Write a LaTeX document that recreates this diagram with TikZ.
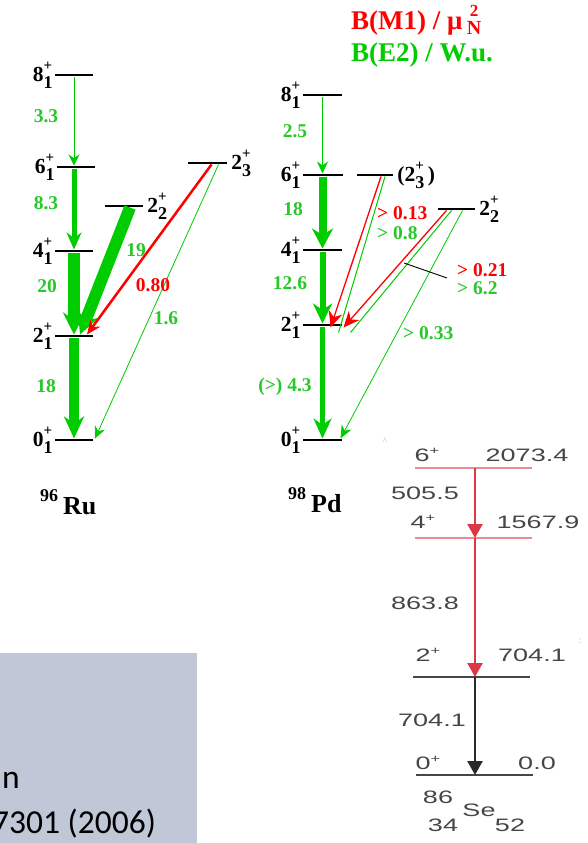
\documentclass[tikz,border=0pt]{standalone}
\usepackage{fontspec}
\setmainfont{Liberation Serif}
\newfontfamily\sefont[FakeStretch=1.5]{Liberation Sans}
\newfontfamily\notefont{Carlito}
\usetikzlibrary{arrows.meta,positioning}

\definecolor{egreen}{RGB}{0,204,0}
\definecolor{tgreen}{RGB}{40,200,40}
\definecolor{mred}{RGB}{255,0,0}
\definecolor{selev}{RGB}{232,140,150}
\definecolor{searr}{RGB}{220,55,70}
\definecolor{segray}{RGB}{70,70,70}
\definecolor{notebg}{RGB}{192,199,214}

% spin label: J with K below and parity above
\newcommand{\spin}[3]{#1\rlap{\raisebox{11pt}{\fontsize{15}{15}\selectfont #3}}\raisebox{-7pt}{\fontsize{18}{18}\selectfont #2}}
\newcommand{\sesup}[2]{#1\raisebox{0.38em}{\fontsize{11}{11}\selectfont #2}}

\tikzset{
  lev/.style={fill=black, inner sep=0pt, minimum height=2.6pt},
  selvl/.style={fill=#1, inner sep=0pt, minimum height=1.3pt, minimum width=117pt},
  levlab/.style={font=\bfseries\fontsize{21.5}{22}\selectfont, inner sep=1pt},
  trlab/.style={font=\bfseries\fontsize{19.5}{20}\selectfont, text=tgreen, inner sep=0pt},
  gtr/.style={draw=egreen, line width=#1},
  selab/.style={font=\sefont\fontsize{18}{18}\selectfont, text=segray, inner sep=0pt},
}

\begin{document}
\begin{tikzpicture}[x=1pt,y=-1pt]
    \clip (0,0) rectangle (587,843);
    \fill[white] (0,0) rectangle (587,843);

    % Levels
    \foreach \n/\x/\y/\w in {ru8/74/75/38, ru6/76/167/38, ru22/124/206/38, ru23/207.5/163/39,
        ru4/74/251/38, ru21/74/336/38, ru01/74/440/38,
        pd8/322.5/95/39, pd6/323/175/40, pd23/375/175/36, pd22/456.5/209/37,
        pd4/322.5/250/39, pd21/322.5/325/39, pd01/322.5/440/39} {
        \node[lev, minimum width=\w pt] (\n) at (\x,\y) {};
    }

    % Level labels
    \foreach \n/\j/\k in {ru8/8/1, ru6/6/1, ru4/4/1, ru21/2/1, ru01/0/1,
        pd8/8/1, pd6/6/1, pd4/4/1, pd21/2/1, pd01/0/1} {
        \node[levlab, left=1pt of \n] (\n l) {\spin{\j}{\k}{+}};
    }
    \node[levlab, right=3pt of ru22] (ru22l) {\spin{2}{2}{+}};
    \node[levlab, right=3pt of ru23] (ru23l) {\spin{2}{3}{+}};
    \node[levlab, right=3pt of pd22] (pd22l) {\spin{2}{2}{+}};
    \node[levlab, right=3pt of pd23] (pd23l) {(\spin{2}{3}{+}\,)};

    % Ru transitions
    \draw[gtr=1pt, -{Stealth[length=11pt,width=11pt]}] (ru8) -- (ru6.north -| ru8);
    \draw[gtr=5pt, -{Stealth[length=17pt,width=15pt]}] (ru6.south -| ru8) -- (ru4);
    \draw[gtr=12pt, -{Stealth[length=22pt,width=22pt]}] (ru4) -- (ru21);
    \draw[gtr=12pt, -{Stealth[length=22pt,width=22pt]}] ([xshift=6pt]ru22.south) -- ([xshift=6pt]ru21.north);
    \draw[gtr=10pt, -{Stealth[length=22pt,width=20pt]}] (ru21) -- (ru01);
    \draw[draw=mred, line width=2.5pt, -{Stealth[length=14pt,width=12pt]}] ([xshift=4pt]ru23.south) -- ([xshift=13pt]ru21.north);
    \draw[gtr=0.8pt, -{Stealth[length=12pt,width=11pt]}] ([xshift=11pt]ru23.south) -- ([xshift=21pt]ru01.north);

    \node[trlab] (ru86) at (46,116) {3.3};
    \node[trlab] (ru64) at (46,203) {8.3};
    \node[trlab] (ru42) at (47,286) {20};
    \node[trlab] (ru20) at (46,386) {18};
    \node[trlab] (ru2221) at (136,250) {19};
    \node[trlab, text=mred] (ru2321) at (153,285) {0.80};
    \node[trlab] (ru2301) at (166,318) {1.6};

    % Pd transitions
    \draw[gtr=1pt, -{Stealth[length=12pt,width=11pt]}] (pd8) -- (pd6.north -| pd8);
    \draw[gtr=8pt, -{Stealth[length=20pt,width=21pt]}] (pd6.south -| pd8) -- (pd4);
    \draw[gtr=6pt, -{Stealth[length=20pt,width=19pt]}] (pd4) -- (pd21);
    \draw[gtr=5pt, -{Stealth[length=20pt,width=18pt]}] (pd21) -- (pd01);
    \draw[gtr=1pt] ([xshift=10pt]pd23.south) -- ([xshift=16pt,yshift=-9pt]pd21.north);
    \draw[draw=mred, line width=1.3pt, -{Stealth[length=16pt,width=14pt]}] ([xshift=6pt]pd23.south) -- ([xshift=8pt,yshift=-4pt]pd21.north);
    \draw[gtr=1pt] ([xshift=-5pt]pd22.south) -- ([xshift=28pt,yshift=-9pt]pd21.north);
    \draw[draw=mred, line width=1.3pt, -{Stealth[length=16pt,width=14pt]}] ([xshift=-10pt]pd22.south) -- ([xshift=21pt,yshift=-4pt]pd21.north);
    \draw[gtr=0.8pt, -{Stealth[length=13pt,width=11pt]}] ([xshift=6pt]pd22.south) -- ([xshift=18pt]pd01.north);
    \draw[black, line width=0.9pt] (404,263) -- (447,278);

    \node[trlab] (pd86) at (295,131) {2.5};
    \node[trlab] (pd64) at (293,209) {18};
    \node[trlab] (pd42) at (290,283) {12.6};
    \node[trlab] (pd20) at (285,387) {(>) 4.3};
    \node[trlab, text=mred, anchor=west] (pd2321m) at (377,213) {> 0.13};
    \node[trlab, anchor=west] (pd2321e) at (377,233) {> 0.8};
    \node[trlab, text=mred, anchor=west] (pd2221m) at (457,270) {> 0.21};
    \node[trlab, anchor=west] (pd2221e) at (457,288) {> 6.2};
    \node[trlab, anchor=west] (pd2201) at (403,333) {> 0.33};

    % Legend and nuclei
    \node[font=\bfseries\fontsize{27}{28}\selectfont, text=mred, anchor=base west, inner sep=0pt] (bm1) at (351,30) {B(M1) / μ\,\rlap{\hspace{3pt}\raisebox{13pt}{\fontsize{17}{17}\selectfont 2}}\raisebox{-5pt}{\fontsize{20}{20}\selectfont N}};
    \node[font=\bfseries\fontsize{27}{28}\selectfont, text=egreen, anchor=base west, inner sep=0pt] (be2) at (351,62) {B(E2) / W.u.};
    \node[font=\bfseries\fontsize{26}{26}\selectfont, anchor=base west, inner sep=0pt] (ru) at (40,514) {\raisebox{0.5em}{\fontsize{18}{18}\selectfont 96}\hspace{5pt}Ru};
    \node[font=\bfseries\fontsize{26}{26}\selectfont, anchor=base west, inner sep=0pt] (pd) at (288,512) {\raisebox{0.5em}{\fontsize{18}{18}\selectfont 98}\hspace{5pt}Pd};

    % 86Se scheme
    \node[selvl=selev] (se6) at (473.5,468) {};
    \node[selvl=selev] (se4) at (473.5,538) {};
    \node[selvl=segray] (se2) at (471.5,677) {};
    \node[selvl=segray] (se0) at (474,775) {};
    \draw[draw=searr, line width=2.4pt, -{Triangle[length=14pt,width=15pt]}] (se6.center -| 475,0) -- (se4.center -| 475,0);
    \draw[draw=searr, line width=2.4pt, -{Triangle[length=14pt,width=15pt]}] (se4.center -| 475,0) -- (se2.center -| 475,0);
    \draw[draw=segray!60!black, line width=2.4pt, -{Triangle[length=14pt,width=15pt]}] (se2.center -| 475,0) -- (se0.center -| 475,0);

    \node[selab] (se6j) at (427,455) {\sesup{6}{+}};
    \node[selab] (se6e) at (527,455) {2073.4};
    \node[selab] (se64) at (425,493) {505.5};
    \node[selab] (se4j) at (423,522) {\sesup{4}{+}};
    \node[selab] (se4e) at (538,522) {1567.9};
    \node[selab] (se42) at (425,603) {863.8};
    \node[selab] (se2j) at (428,655) {\sesup{2}{+}};
    \node[selab] (se2e) at (532,655) {704.1};
    \node[selab] (se20) at (432,720) {704.1};
    \node[selab] (se0j) at (428,763) {\sesup{0}{+}};
    \node[selab] (se0e) at (537,763) {0.0};
    \node[selab] (seA) at (438,797) {86};
    \node[selab] (seX) at (479,810) {Se};
    \node[selab] (seZ) at (443,825) {34};
    \node[selab] (seN) at (510,825) {52};
    \node[text=gray!50, font=\fontsize{10}{10}\selectfont, inner sep=0pt] (mk1) at (385,441) {\textasciicircum};
    \node[text=gray!50, font=\fontsize{10}{10}\selectfont, inner sep=0pt] (mk2) at (580,641) {:};

    % Note box
    \fill[notebg] (0,653) rectangle (197,843);
    \node[font=\notefont\fontsize{33.5}{34}\selectfont, anchor=base east, inner sep=0pt] (nt1) at (20,788) {n};
    \node[font=\notefont\fontsize{33.5}{34}\selectfont, anchor=base west, inner sep=0pt] (nt2) at (-8,833) {7301 (2006)};
\end{tikzpicture}
\end{document}
